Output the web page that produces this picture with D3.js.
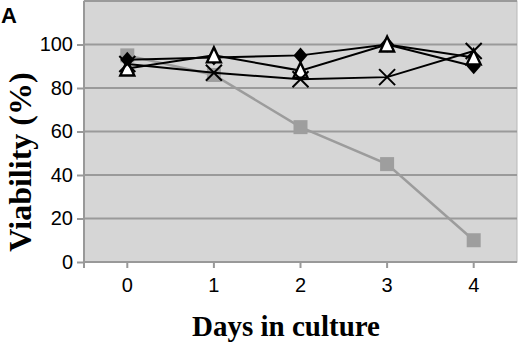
<!DOCTYPE html>
<html><head><meta charset="utf-8">
<script src="https://cdn.jsdelivr.net/npm/d3@7"></script>
<style>body{margin:0;background:#fff}svg{display:block}</style>
</head><body>
<svg id="c" width="520" height="344"></svg>
<script>
const days = ["0","1","2","3","4"];
const yTicks = [0,20,40,60,80,100];
const diamondSeries = [93, 94, 95, 100, 90];
const squareSeries = [95, 86, 62, 45, 10];
const triangleSeries = [89, 95, 88, 100, 94];
const crossSeries = [91, 87, 84, 85, 97];

const svg = d3.select("#c");
const L = 84, R = 517, T = 1, B = 262;
const x = d3.scaleBand().domain(days).range([L, R]);
const y = d3.scaleLinear().domain([0, 120]).range([B, T]);
const cx = d => x(d) + x.bandwidth()/2;

svg.append("rect").attr("x", L).attr("y", T).attr("width", R-L).attr("height", B-T)
  .attr("fill", "#d6d6d6").attr("stroke", "#b8b8b8").attr("stroke-width", 1);

svg.append("g").selectAll("line").data([20,40,60,80,100,120]).join("line")
  .attr("x1", L).attr("x2", R).attr("y1", d=>y(d)).attr("y2", d=>y(d))
  .attr("stroke", "#9a9a9a").attr("stroke-width", 2);

const ya = svg.append("g").attr("transform", `translate(${L},0)`)
  .call(d3.axisLeft(y).tickValues(yTicks).tickSize(7).tickPadding(4));
ya.select(".domain").attr("d", `M0,${T}V${B+6}`).attr("stroke", "#999").attr("stroke-width", 2);
ya.selectAll(".tick line").attr("stroke", "#999").attr("stroke-width", 2);
ya.selectAll("text").attr("font-family", "Liberation Sans, Arial, sans-serif").attr("font-size", 20).attr("fill", "#000");

const xa = svg.append("g").attr("transform", `translate(0,${B})`)
  .call(d3.axisBottom(x).tickSize(6).tickPadding(10));
xa.select(".domain").attr("d", `M${L},0H${R}`).attr("stroke", "#999").attr("stroke-width", 2);
xa.selectAll(".tick line").attr("stroke", "#999").attr("stroke-width", 2);
xa.selectAll("text").attr("font-family", "Liberation Sans, Arial, sans-serif").attr("font-size", 20).attr("fill", "#000");

const line = d3.line().x((d,i)=>cx(days[i])).y(d=>y(d));

svg.append("path").datum(squareSeries).attr("d", line).attr("fill","none")
  .attr("stroke","#9c9c9c").attr("stroke-width",2.5);
svg.append("g").selectAll("rect").data(squareSeries).join("rect")
  .attr("x",(d,i)=>cx(days[i])-7).attr("y",d=>y(d)-7).attr("width",14).attr("height",14)
  .attr("fill","#9e9e9e");

[crossSeries, triangleSeries, diamondSeries].forEach(s=>{
  svg.append("path").datum(s).attr("d", line).attr("fill","none")
    .attr("stroke","#000").attr("stroke-width",2);
});

svg.append("g").selectAll("path").data(diamondSeries).join("path")
  .attr("transform",(d,i)=>`translate(${cx(days[i])},${y(d)})`)
  .attr("d","M0,-8L7,0L0,8L-7,0Z").attr("fill","#000");

svg.append("g").selectAll("path").data(triangleSeries).join("path")
  .attr("transform",(d,i)=>`translate(${cx(days[i])},${y(d)})`)
  .attr("d","M0,-8L7,7L-7,7Z").attr("stroke","#000").attr("stroke-width",2.4).attr("fill","#fff");

svg.append("g").selectAll("path").data(crossSeries).join("path")
  .attr("transform",(d,i)=>`translate(${cx(days[i])},${y(d)})`)
  .attr("d","M-8,-8L8,8M-8,8L8,-8").attr("stroke","#000").attr("stroke-width",2).attr("fill","none");

svg.append("text").attr("x", 1).attr("y", 23).text("A")
  .attr("font-family","Liberation Sans, Arial, sans-serif").attr("font-weight","bold").attr("font-size",22);
svg.append("text").attr("transform","translate(31,162) rotate(-90)").attr("text-anchor","middle")
  .text("Viability (%)").attr("font-family","Liberation Serif, Times New Roman, serif")
  .attr("font-weight","bold").attr("font-size",32);
svg.append("text").attr("x", 286).attr("y", 336).attr("text-anchor","middle")
  .text("Days in culture").attr("font-family","Liberation Serif, Times New Roman, serif")
  .attr("font-weight","bold").attr("font-size",29);
</script>
</body></html>
